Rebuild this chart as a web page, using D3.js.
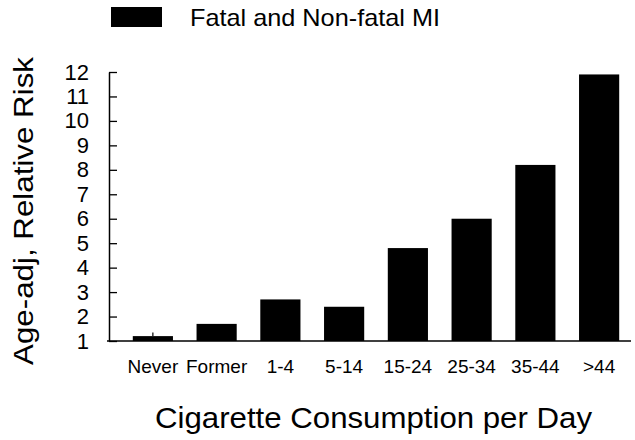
<!DOCTYPE html>
<html>
<head>
<meta charset="utf-8">
<script src="https://cdn.jsdelivr.net/npm/d3@7"></script>
<style>
  html, body { margin: 0; padding: 0; background: #fff; }
  svg { display: block; }
  text { font-family: "Liberation Sans", Arial, Helvetica, sans-serif; fill: #000; }
</style>
</head>
<body>
<svg id="chart" width="635" height="440"></svg>
<script>
// Smoking categories and age-adjusted relative risk of MI
const categories = ["Never", "Former", "1-4", "5-14", "15-24", "25-34", "35-44", ">44"];
const relativeRisk = [1.2, 1.7, 2.7, 2.4, 4.8, 6.0, 8.2, 11.9];
// upper whisker shown only for the reference group
const upperLimit = [1.35, null, null, null, null, null, null, null];
const yTicks = [1, 2, 3, 4, 5, 6, 7, 8, 9, 10, 11, 12];

const legendLabel = "Fatal and Non-fatal MI";
const xTitle = "Cigarette Consumption per Day";
const yTitle = "Age-adj, Relative Risk";

const svg = d3.select("#chart");

const axisX = 109, baseY = 341, topY = 72;

const y = d3.scaleLinear().domain([1, 12]).range([baseY, topY]);
const x = d3.scaleBand()
  .domain(categories)
  .range([121, 631])
  .paddingInner(0.37)
  .paddingOuter(0.185);

// bars
svg.append("g").selectAll("rect")
  .data(categories)
  .join("rect")
  .attr("x", d => x(d))
  .attr("width", x.bandwidth())
  .attr("y", (d, i) => y(relativeRisk[i]))
  .attr("height", (d, i) => y(1) - y(relativeRisk[i]))
  .attr("fill", "#000");

// whiskers
svg.append("g").selectAll("line")
  .data(categories.filter((d, i) => upperLimit[i] != null))
  .join("line")
  .attr("x1", d => x(d) + x.bandwidth() / 2)
  .attr("x2", d => x(d) + x.bandwidth() / 2)
  .attr("y1", d => y(relativeRisk[categories.indexOf(d)]))
  .attr("y2", d => y(upperLimit[categories.indexOf(d)]))
  .attr("stroke", "#000")
  .attr("stroke-width", 1.2);

// y axis with inward ticks
const yAxis = d3.axisLeft(y)
  .tickValues(yTicks)
  .tickFormat(d3.format("d"))
  .tickSizeInner(-8)
  .tickSizeOuter(0)
  .tickPadding(20);

const gy = svg.append("g")
  .attr("transform", `translate(${axisX},0)`)
  .call(yAxis);
gy.select(".domain").attr("stroke", "#000").attr("stroke-width", 1.5);
gy.selectAll(".tick line").attr("stroke", "#000").attr("stroke-width", 1.3);
gy.selectAll(".tick text")
  .attr("font-size", 22)
  .attr("font-family", "Liberation Sans, Arial, sans-serif")
  .attr("fill", "#000");

// baseline
svg.append("line")
  .attr("x1", axisX - 2).attr("x2", x.range()[1])
  .attr("y1", baseY).attr("y2", baseY)
  .attr("stroke", "#000").attr("stroke-width", 1.5);

// category labels
svg.append("g").selectAll("text")
  .data(categories)
  .join("text")
  .attr("x", d => x(d) + x.bandwidth() / 2)
  .attr("y", 373)
  .attr("text-anchor", "middle")
  .attr("font-size", 19)
  .text(d => d);

// x title
svg.append("text")
  .attr("x", 155)
  .attr("y", 428)
  .attr("font-size", 29)
  .attr("textLength", 437)
  .attr("lengthAdjust", "spacingAndGlyphs")
  .text(xTitle);

// y title
svg.append("text")
  .attr("transform", "translate(33,365) rotate(-90)")
  .attr("x", 0).attr("y", 0)
  .attr("font-size", 28)
  .attr("textLength", 308)
  .attr("lengthAdjust", "spacingAndGlyphs")
  .text(yTitle);

// legend
svg.append("rect")
  .attr("x", 111).attr("y", 7)
  .attr("width", 51).attr("height", 20)
  .attr("fill", "#000");
svg.append("text")
  .attr("x", 190).attr("y", 26)
  .attr("font-size", 24)
  .attr("textLength", 250)
  .attr("lengthAdjust", "spacingAndGlyphs")
  .text(legendLabel);
</script>
</body>
</html>
